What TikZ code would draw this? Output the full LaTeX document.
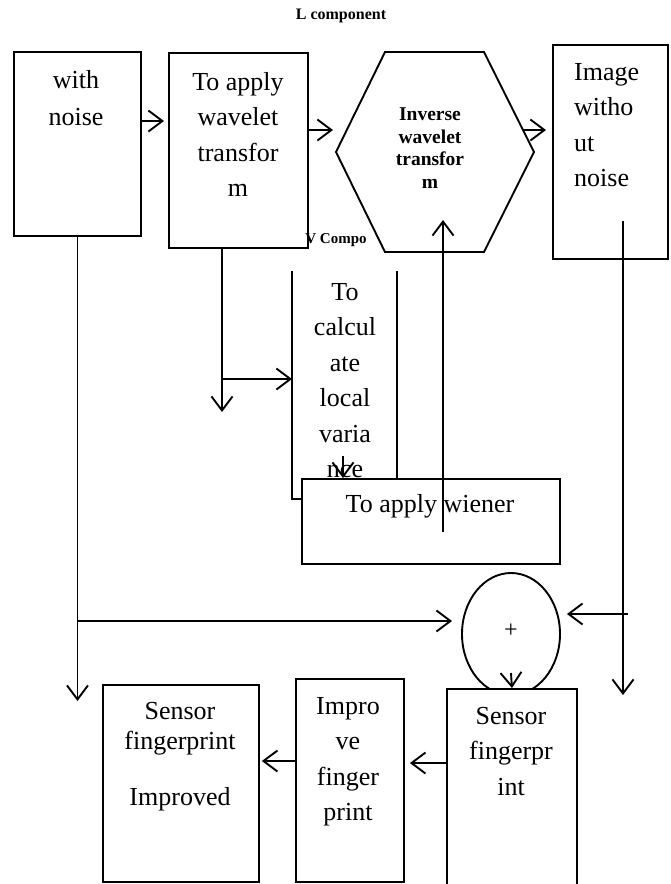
\documentclass[tikz,border=0pt]{standalone}
\usepackage{fontspec}
\setmainfont{Liberation Serif}
\usetikzlibrary{arrows.meta,shapes.geometric}
\tikzset{
  box/.style={draw,line width=1.9pt,fill=white,inner sep=0pt,anchor=north west},
  txt/.style={align=center,inner sep=0pt,anchor=north,font=\fontsize{26}{35.5}\selectfont},
  btxt/.style={align=center,inner sep=0pt,font=\bfseries\fontsize{19.5}{22.5}\selectfont},
  flow/.style={line width=1.9pt,-{Straight Barb[length=14pt,width=21pt]}},
  wire/.style={line width=1.9pt},
}

\begin{document}
\begin{tikzpicture}[x=1pt,y=-1pt]
\useasboundingbox (0,0) rectangle (670,884);

\node[inner sep=0pt,font=\bfseries\fontsize{16}{18}\selectfont] (ltitle) at (341,16) {L component};

% top row
\node[box,minimum width=127pt,minimum height=184pt] (noisy) at (13,51) {};
\node[txt,text width=120pt] (noisyt) at (76,70) {with\\[1.5pt]noise};
\node[box,minimum width=139pt,minimum height=195pt] (wave) at (168,52) {};
\node[txt] (wavet) at (238,72) {To apply\\wavelet\\transfor\\m};
\node[inner sep=0pt,font=\bfseries\fontsize{15}{17}\selectfont] (vtitle) at (336,240) {V Compo};

\coordinate (hex) at (435,152);
\coordinate (hexw) at (336,152);
\coordinate (hexe) at (534,152);
\draw[wire,fill=white] (hexw) -- (385,52) -- (484,52) -- (hexe) -- (484,252) -- (385,252) -- cycle;
\node[btxt,anchor=north] (hext) at (430,108) {Inverse\\wavelet\\transfor\\m};

\node[box,minimum width=115pt,minimum height=214pt] (outimg) at (552,44) {};
\node[txt,align=left,anchor=north west] (outimgt) at (574,63) {Image\\witho\\ut\\noise};

% V component
\coordinate (calcnw) at (292,271);
\coordinate (calcne) at (397,271);
\draw[wire] (calcnw) -- (292,499) -- (301,499);
\draw[wire] (calcne) -- (397,478);
\node[txt] (calct) at (345,283) {To\\calcul\\ate\\local\\varia\\nce};
\node[box,minimum width=258pt,minimum height=85pt] (wiener) at (301,478) {};
\node[txt] (wienert) at (430,494) {To apply wiener};

% bottom row
\node[draw,wire,ellipse,minimum width=98pt,minimum height=122pt,inner sep=0pt,font=\fontsize{24}{26}\selectfont] (sum) at (511,634) {\raisebox{6pt}{+}};
\node[box,minimum width=130pt,minimum height=215pt] (sensor) at (446,688) {};
\node[txt] (sensort) at (511,707) {Sensor\\fingerpr\\int};
\node[box,minimum width=108pt,minimum height=203pt] (improve) at (295,678) {};
\node[txt] (improvet) at (348,697) {Impro\\ve\\finger\\print};
\node[box,minimum width=156pt,minimum height=197pt] (improved) at (102,684) {};
\node[txt,font=\fontsize{26}{30}\selectfont] (improvedt) at (180,702) {Sensor\\fingerprint\\[26pt]Improved};

% arrows
\draw[flow,shorten >=4pt] (noisy.east |- 0,121) -- (wave.west |- 0,121);
\draw[flow,shorten >=3pt] (wave.east |- 0,130) -- (hexw |- 0,130);
\draw[flow,shorten >=6pt] ([xshift=-11pt]hexe |- 0,130) -- (outimg.west |- 0,130);

\draw[flow] (noisy.south) -- (noisy.south |- 0,701);
\draw[flow,shorten >=9pt] (noisy.south |- 0,621) -- (sum.west |- 0,621);

\draw[flow] (wave.south -| 222,0) -- (222,412);
\draw[flow] (222,379) -- (calcnw |- 0,379);
\draw[flow] (343,456) -- (wiener.north -| 343,0);

\coordinate (wup) at (443,532);
\draw[flow] (wup) -- (wup |- 0,220);

\coordinate (imgdown) at (623,221);
\draw[flow] (imgdown) -- (imgdown |- 0,695);
\draw[flow,shorten >=6pt] (628,614) -- (sum.east |- 0,614);

\draw[flow] (sum |- 0,673) -- (sensor.north);
\draw[flow,shorten >=5pt] (sensor.west |- 0,763) -- (improve.east |- 0,763);
\draw[flow,shorten >=2pt] (improve.west |- 0,761) -- (improved.east |- 0,761);
\end{tikzpicture}
\end{document}
